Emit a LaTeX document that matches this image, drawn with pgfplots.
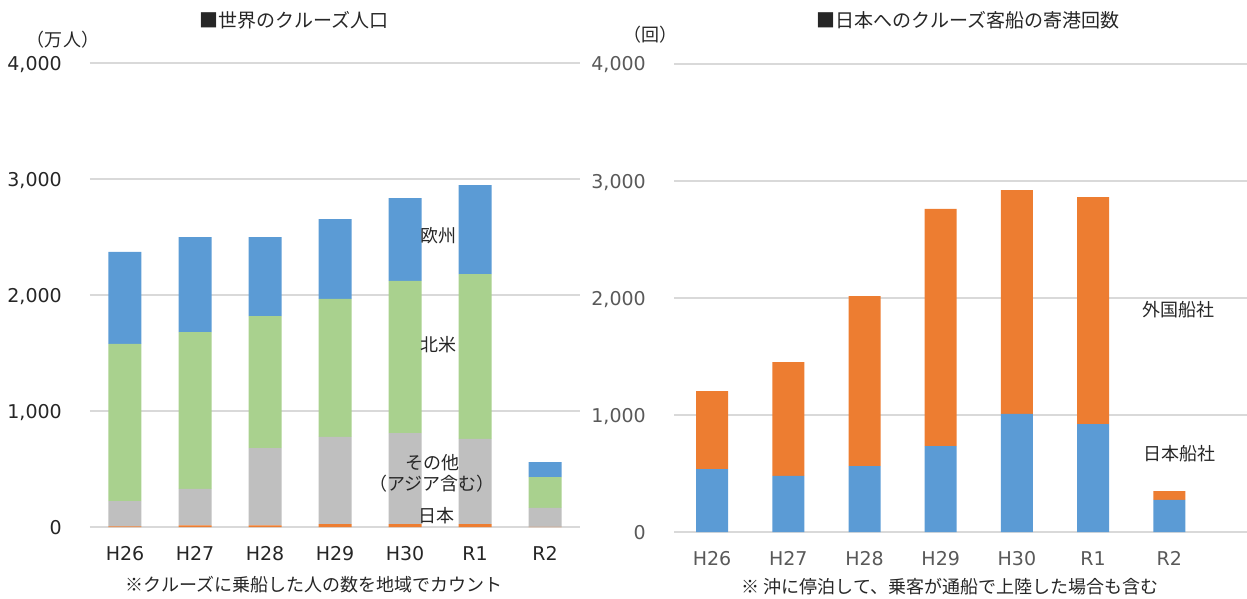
\documentclass[border=0pt]{standalone}
\usepackage{fontspec}
\setmainfont{DejaVu Sans}
\newfontfamily\jp{Noto Sans CJK JP}
\usepackage{pgfplots}
\pgfplotsset{compat=1.18}
\definecolor{cblue}{HTML}{5B9BD5}
\definecolor{corange}{HTML}{ED7D31}
\definecolor{cgreen}{HTML}{A9D18E}
\definecolor{cgray}{HTML}{BFBFBF}
\definecolor{cgrid}{HTML}{D9D9D9}
\definecolor{ctxt}{HTML}{262626}
\definecolor{ctick}{HTML}{595959}
\begin{document}
\begin{tikzpicture}
\path[use as bounding box] (0pt,0pt) rectangle (1247pt,-599pt);
\pgfplotsset{
  common/.style={
    scale only axis,
    ymin=0, ymax=4000, ytick={0,1000,2000,3000,4000},
    ymajorgrids, major grid style={draw=cgrid, line width=1.4pt},
    axis line style={draw=none}, major tick length=0pt,
    xtick={0,...,6}, xticklabels={H26,H27,H28,H29,H30,R1,R2},
    /pgf/number format/assume math mode=true,
    /pgf/number format/1000 sep={,},
    ticklabel style={font=\fontsize{19pt}{21pt}\selectfont, inner sep=0pt},
    yticklabel style={anchor=base east, xshift=-28pt, yshift=-7pt},
    xticklabel style={anchor=base, yshift=-33pt},
    ybar stacked,
    clip=false,
  }
}
% Left chart: world cruise population
\begin{axis}[common, anchor=south west, at={(90pt,-527pt)}, width=490pt, height=464pt,
  xmin=-0.5, xmax=6.5, bar width=33pt,
  ticklabel style={text=ctxt}]
\addplot[fill=corange, draw=none] coordinates {(0,5) (1,15) (2,15) (3,25) (4,25) (5,25) (6,2)};
\addplot[fill=cgray, draw=none] coordinates {(0,219) (1,313) (2,666) (3,751) (4,785) (5,734) (6,162)};
\addplot[fill=cgreen, draw=none] coordinates {(0,1354) (1,1353) (2,1138) (3,1190) (4,1311) (5,1422) (6,267)};
\addplot[fill=cblue, draw=none] coordinates {(0,793) (1,819) (2,681) (3,689) (4,715) (5,767) (6,129)};
\end{axis}
% Right chart: port calls in Japan
\begin{axis}[common, anchor=south west, at={(674pt,-532pt)}, width=573pt, height=468pt,
  xmin=-0.5, xmax=7.02, bar width=32pt,
  ticklabel style={text=ctick}]
\addplot[fill=cblue, draw=none] coordinates {(0,538) (1,479) (2,564) (3,735) (4,1009) (5,923) (6,274)};
\addplot[fill=corange, draw=none] coordinates {(0,667) (1,974) (2,1453) (3,2026) (4,1914) (5,1940) (6,76)};
\end{axis}
% Titles and texts
\begin{scope}[every node/.style={font=\jp\fontsize{18pt}{20pt}\selectfont, text=ctxt, inner sep=0pt}]
\node[font=\jp\fontsize{19pt}{21pt}\selectfont] at (294pt,-20pt) {■世界のクルーズ人口};
\node[font=\jp\fontsize{19pt}{21pt}\selectfont] at (968pt,-20pt) {■日本へのクルーズ客船の寄港回数};
\node at (63pt,-40pt) {（万人）};
\node at (650pt,-35pt) {（回）};
\node at (438pt,-236pt) {欧州};
\node at (438pt,-345pt) {北米};
\node at (432pt,-463pt) {その他};
\node at (432pt,-484pt) {（アジア含む）};
\node at (436pt,-516pt) {日本};
\node at (1178pt,-310pt) {外国船社};
\node at (1179pt,-454pt) {日本船社};
\node at (314pt,-585pt) {※クルーズに乗船した人の数を地域でカウント};
\node at (950pt,-587pt) {※ 沖に停泊して、乗客が通船で上陸した場合も含む};
\end{scope}
\end{tikzpicture}
\end{document}
